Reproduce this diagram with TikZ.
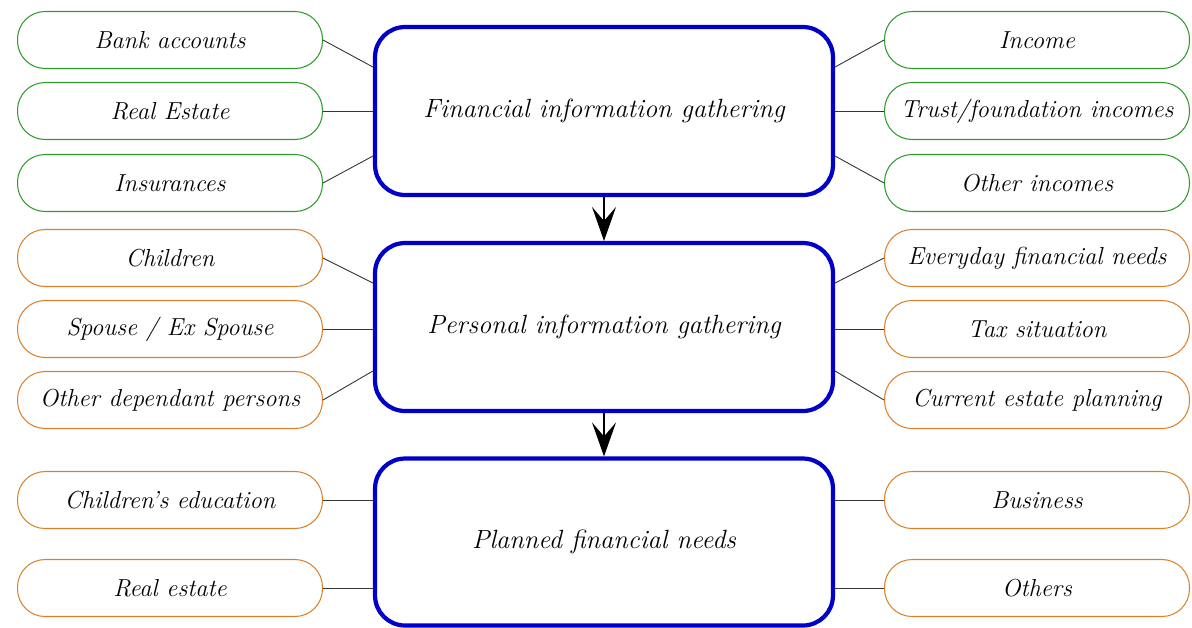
\documentclass[tikz,border=0pt]{standalone}
\usepackage{tikz}
\usetikzlibrary{arrows.meta,positioning,calc}
\definecolor{ItemGreen}{HTML}{2E9B2E}
\definecolor{ItemOrange}{HTML}{D9822B}
\definecolor{StageBlue}{HTML}{0000C8}

\begin{document}
\begin{tikzpicture}[x=0.02cm, y=-0.02cm,
    item/.style={draw, rounded corners=0.55cm, minimum width=6.1cm, minimum height=1.14cm,
                 line width=0.6pt, inner sep=0pt, font=\fontsize{14}{16}\selectfont\itshape},
    finitem/.style={item, draw=ItemGreen},
    persitem/.style={item, draw=ItemOrange},
    stage/.style={draw=StageBlue, line width=2.4pt, rounded corners=0.6cm,
                  minimum width=9.16cm, minimum height=3.36cm,
                  font=\fontsize{15}{18}\selectfont\itshape},
    link/.style={line width=0.5pt, black!80},
    flow/.style={-{Stealth[length=0.68cm, width=0.48cm, inset=0.28cm]}, line width=0.6pt},
  ]
    \useasboundingbox (0,0) rectangle (1192,627);
    % main stages
    \node[stage] (fin)  at (604,111) {Financial information gathering};
    \node[stage] (pers) at (604,327) {Personal information gathering};
    \node[stage, minimum height=3.34cm] (plan) at (604,542) {Planned financial needs};
    % financial items
    \node[finitem] (bank)    at (170,40)  {Bank accounts};
    \node[finitem] (realest) at (170,111) {Real Estate};
    \node[finitem] (insur)   at (170,183) {Insurances};
    \node[finitem] (income)  at (1037,40)  {Income};
    \node[finitem] (trust)   at (1037,111) {Trust/foundation incomes};
    \node[finitem] (otherin) at (1037,183) {Other incomes};
    % personal items
    \node[persitem] (child)   at (170,258) {Children};
    \node[persitem] (spouse)  at (170,329) {Spouse / Ex Spouse};
    \node[persitem] (depend)  at (170,400) {Other dependant persons};
    \node[persitem] (everyday) at (1037,258) {Everyday financial needs};
    \node[persitem] (tax)     at (1037,329) {Tax situation};
    \node[persitem] (estate)  at (1037,400) {Current estate planning};
    % planned items
    \node[persitem] (educ)    at (170,500) {Children's education};
    \node[persitem] (realplan) at (170,588) {Real estate};
    \node[persitem] (business) at (1037,500) {Business};
    \node[persitem] (others)  at (1037,588) {Others};

    \draw[link] (bank.east)    -- ([yshift=0.88cm]fin.west);
    \draw[link] (realest.east) -- (fin.west);
    \draw[link] (insur.east)   -- ([yshift=-0.9cm]fin.west);
    \draw[link] (income.west)  -- ([yshift=0.88cm]fin.east);
    \draw[link] (trust.west)   -- (fin.east);
    \draw[link] (otherin.west) -- ([yshift=-0.9cm]fin.east);

    \draw[link] (child.east)    -- ([yshift=0.88cm]pers.west);
    \draw[link] (spouse.east)   -- (spouse.east -| pers.west);
    \draw[link] (depend.east)   -- ([yshift=-0.88cm]pers.west);
    \draw[link] (everyday.west) -- ([yshift=0.88cm]pers.east);
    \draw[link] (tax.west)      -- (tax.west -| pers.east);
    \draw[link] (estate.west)   -- ([yshift=-0.88cm]pers.east);

    \draw[link] (educ.east)     -- (educ.east -| plan.west);
    \draw[link] (realplan.east) -- (realplan.east -| plan.west);
    \draw[link] (business.west) -- (business.west -| plan.east);
    \draw[link] (others.west)   -- (others.west -| plan.east);

    \draw[flow] (fin.south)  -- (pers.north);
    \draw[flow] (pers.south) -- (plan.north);
\end{tikzpicture}
\end{document}
